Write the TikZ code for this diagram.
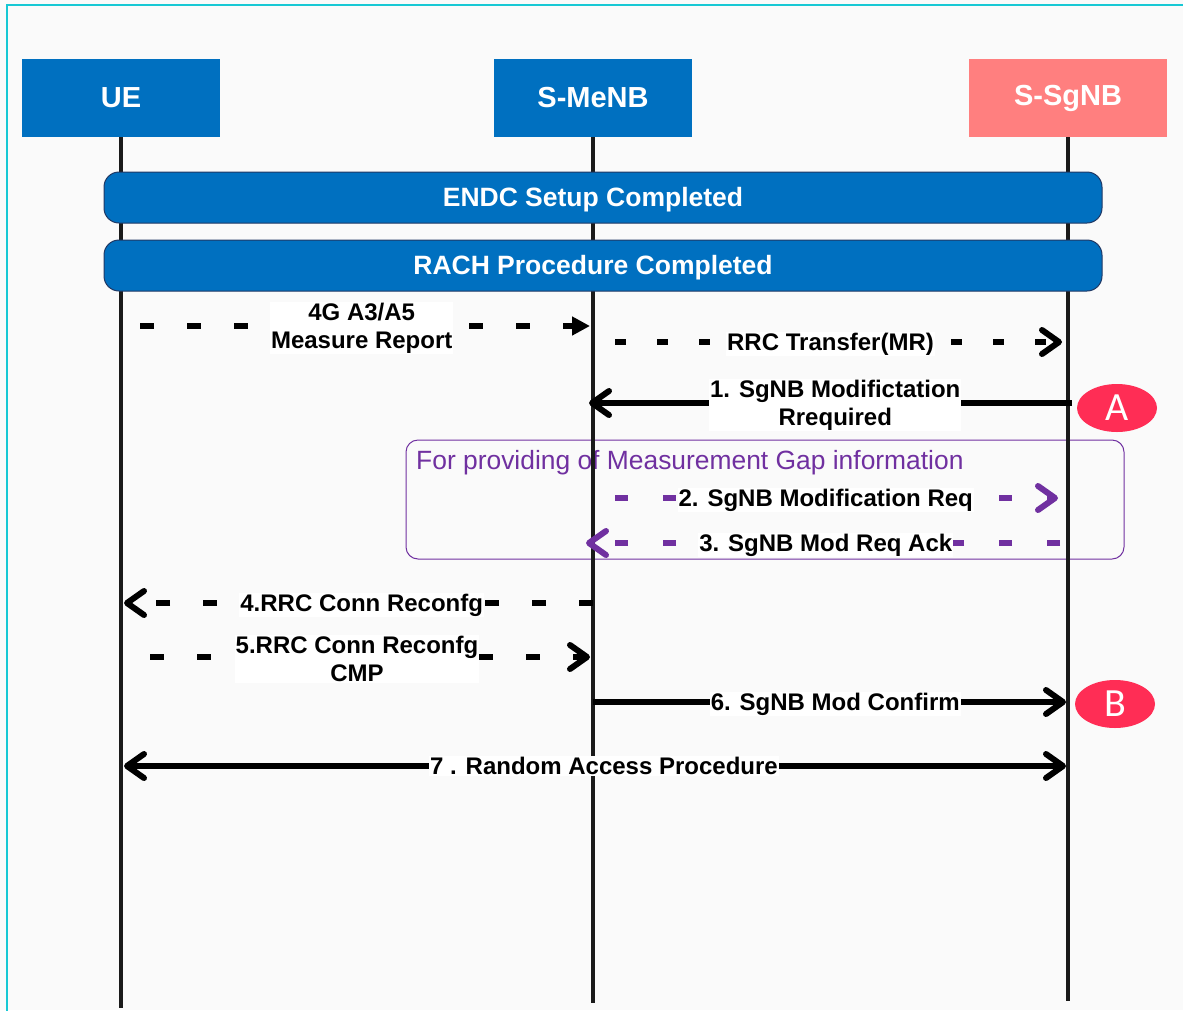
\documentclass[tikz,border=0pt]{standalone}
\usepackage{fontspec}
\setmainfont{Liberation Sans}
\newfontfamily\badgefont{Carlito}
\usetikzlibrary{arrows.meta, shapes.geometric, positioning}

\definecolor{hdrblue}{HTML}{0070C0}
\definecolor{hdrsalmon}{HTML}{FF7F7F}
\definecolor{barline}{HTML}{203864}
\definecolor{gappurple}{HTML}{7030A0}
\definecolor{badgered}{HTML}{FF2D55}
\definecolor{lifecol}{HTML}{1A1A1A}
\definecolor{framecyan}{HTML}{17C8D4}
\definecolor{bgcol}{HTML}{FAFAFA}

\begin{document}
\begin{tikzpicture}[
    x=1pt, y=-1pt,
    actor/.style={fill=hdrblue, text=white, minimum width=198pt, minimum height=78pt, inner sep=0pt, font=\fontsize{29}{32}\selectfont\bfseries},
    phase/.style={draw=barline, line width=1pt, fill=hdrblue, rounded corners=15pt, minimum width=998pt, minimum height=51pt, inner sep=0pt},
    phasetext/.style={text=white, inner sep=0pt, font=\fontsize{26.5}{30}\selectfont\bfseries},
    lifeline/.style={draw=lifecol, line width=4pt},
    barb/.tip={Straight Barb[length=17pt, width=24pt, round]},
    msg/.style={line width=6pt, -barb},
    dashmsg/.style={msg, dash pattern=on 14pt off 33pt},
    msglabel/.style={fill=white, inner sep=1pt, text=black, align=center, font=\fontsize{24}{28}\selectfont\bfseries},
    gapbox/.style={draw=gappurple, line width=1pt, rounded corners=12pt, minimum width=718pt, minimum height=119pt},
    gaptext/.style={text=gappurple, inner sep=0pt, font=\fontsize{26.4}{30}\selectfont},
    badge/.style={ellipse, fill=badgered, text=white, minimum width=80pt, minimum height=48pt, inner sep=0pt, font=\badgefont\fontsize{40}{40}\selectfont}
]

% Page and frame
\useasboundingbox (0,0) rectangle (1183,1010);
\fill[bgcol] (0,0) rectangle (1183,1010);
\draw[framecyan, line width=2.5pt] (7,5) rectangle (1200,1030);

% Entities
\node[actor] (ue) at (121,98) {UE};
\node[actor] (menb) at (593,98) {S-MeNB};
\node[actor, fill=hdrsalmon] (sgnb) at (1068,98) {S-SgNB};

% Measurement gap group
\node[gapbox] (gap) at (765,499.5) {};
\node[gaptext, anchor=west] (gaptitle) at (416,463) {For providing of Measurement Gap information};

% Lifelines
\draw[lifeline] (ue.south) -- ++(0,871);
\draw[lifeline] (menb.south) -- ++(0,866);
\draw[lifeline] (sgnb.south) -- ++(0,864);

% Phases
\node[phase] (endc) at (603,197.5) {};
\node[phasetext] (endctxt) at (593,200) {ENDC Setup Completed};
\node[phase] (rach) at (603,265.5) {};
\node[phasetext] (rachtxt) at (593,268) {RACH Procedure Completed};

% Messages
\draw[dashmsg, -{Triangle[length=18pt, width=18pt]}, shorten <=19pt, shorten >=3pt]
    (ue.south |- 0,326) -- (menb.south |- 0,326)
    node[msglabel, pos=0.51, yshift=-2pt] {4G A3/A5\\Measure Report};
\draw[dashmsg, dash pattern=on 11pt off 31pt, shorten <=22pt, shorten >=6pt]
    (menb.south |- 0,342) -- (sgnb.south |- 0,342)
    node[msglabel, pos=0.5, yshift=-2pt] {RRC Transfer(MR)};
\draw[msg, shorten <=-4pt, shorten >=-4pt]
    (sgnb.south |- 0,403) -- (menb.south |- 0,403)
    node[msglabel, pos=0.49, yshift=-2pt] {1. SgNB Modifictation\\Rrequired};
\draw[dashmsg, draw=gappurple, dash pattern=on 13pt off 35pt, shorten <=22pt, shorten >=10pt]
    (menb.south |- 0,498) -- (sgnb.south |- 0,498)
    node[msglabel, pos=0.49, yshift=-2pt] {2. SgNB Modification Req};
\draw[dashmsg, draw=gappurple, dash pattern=on 13pt off 35pt, shorten <=8pt, shorten >=-7pt]
    (sgnb.south |- 0,543) -- (menb.south |- 0,543)
    node[msglabel, pos=0.51, yshift=-2pt] {3. SgNB Mod Req Ack};
\draw[dashmsg, shorten >=3pt]
    (menb.south |- 0,603) -- (ue.south |- 0,603)
    node[msglabel, pos=0.49, yshift=-2pt] {4.RRC Conn Reconfg};
\draw[dashmsg, shorten <=29pt, shorten >=3pt]
    (ue.south |- 0,657) -- (menb.south |- 0,657)
    node[msglabel, pos=0.5, yshift=-2pt] {5.RRC Conn Reconfg\\CMP};
\draw[msg, shorten >=2pt]
    (menb.south |- 0,702) -- (sgnb.south |- 0,702)
    node[msglabel, pos=0.51, yshift=-2pt] {6. SgNB Mod Confirm};
\draw[msg, barb-barb, shorten <=3pt, shorten >=2pt]
    (ue.south |- 0,766) -- (sgnb.south |- 0,766)
    node[msglabel, pos=0.51] {7 . Random Access Procedure};

% Markers
\node[badge] (bada) at (1117,408) {A};
\node[badge] (badb) at (1115,704) {B};

\end{tikzpicture}
\end{document}
